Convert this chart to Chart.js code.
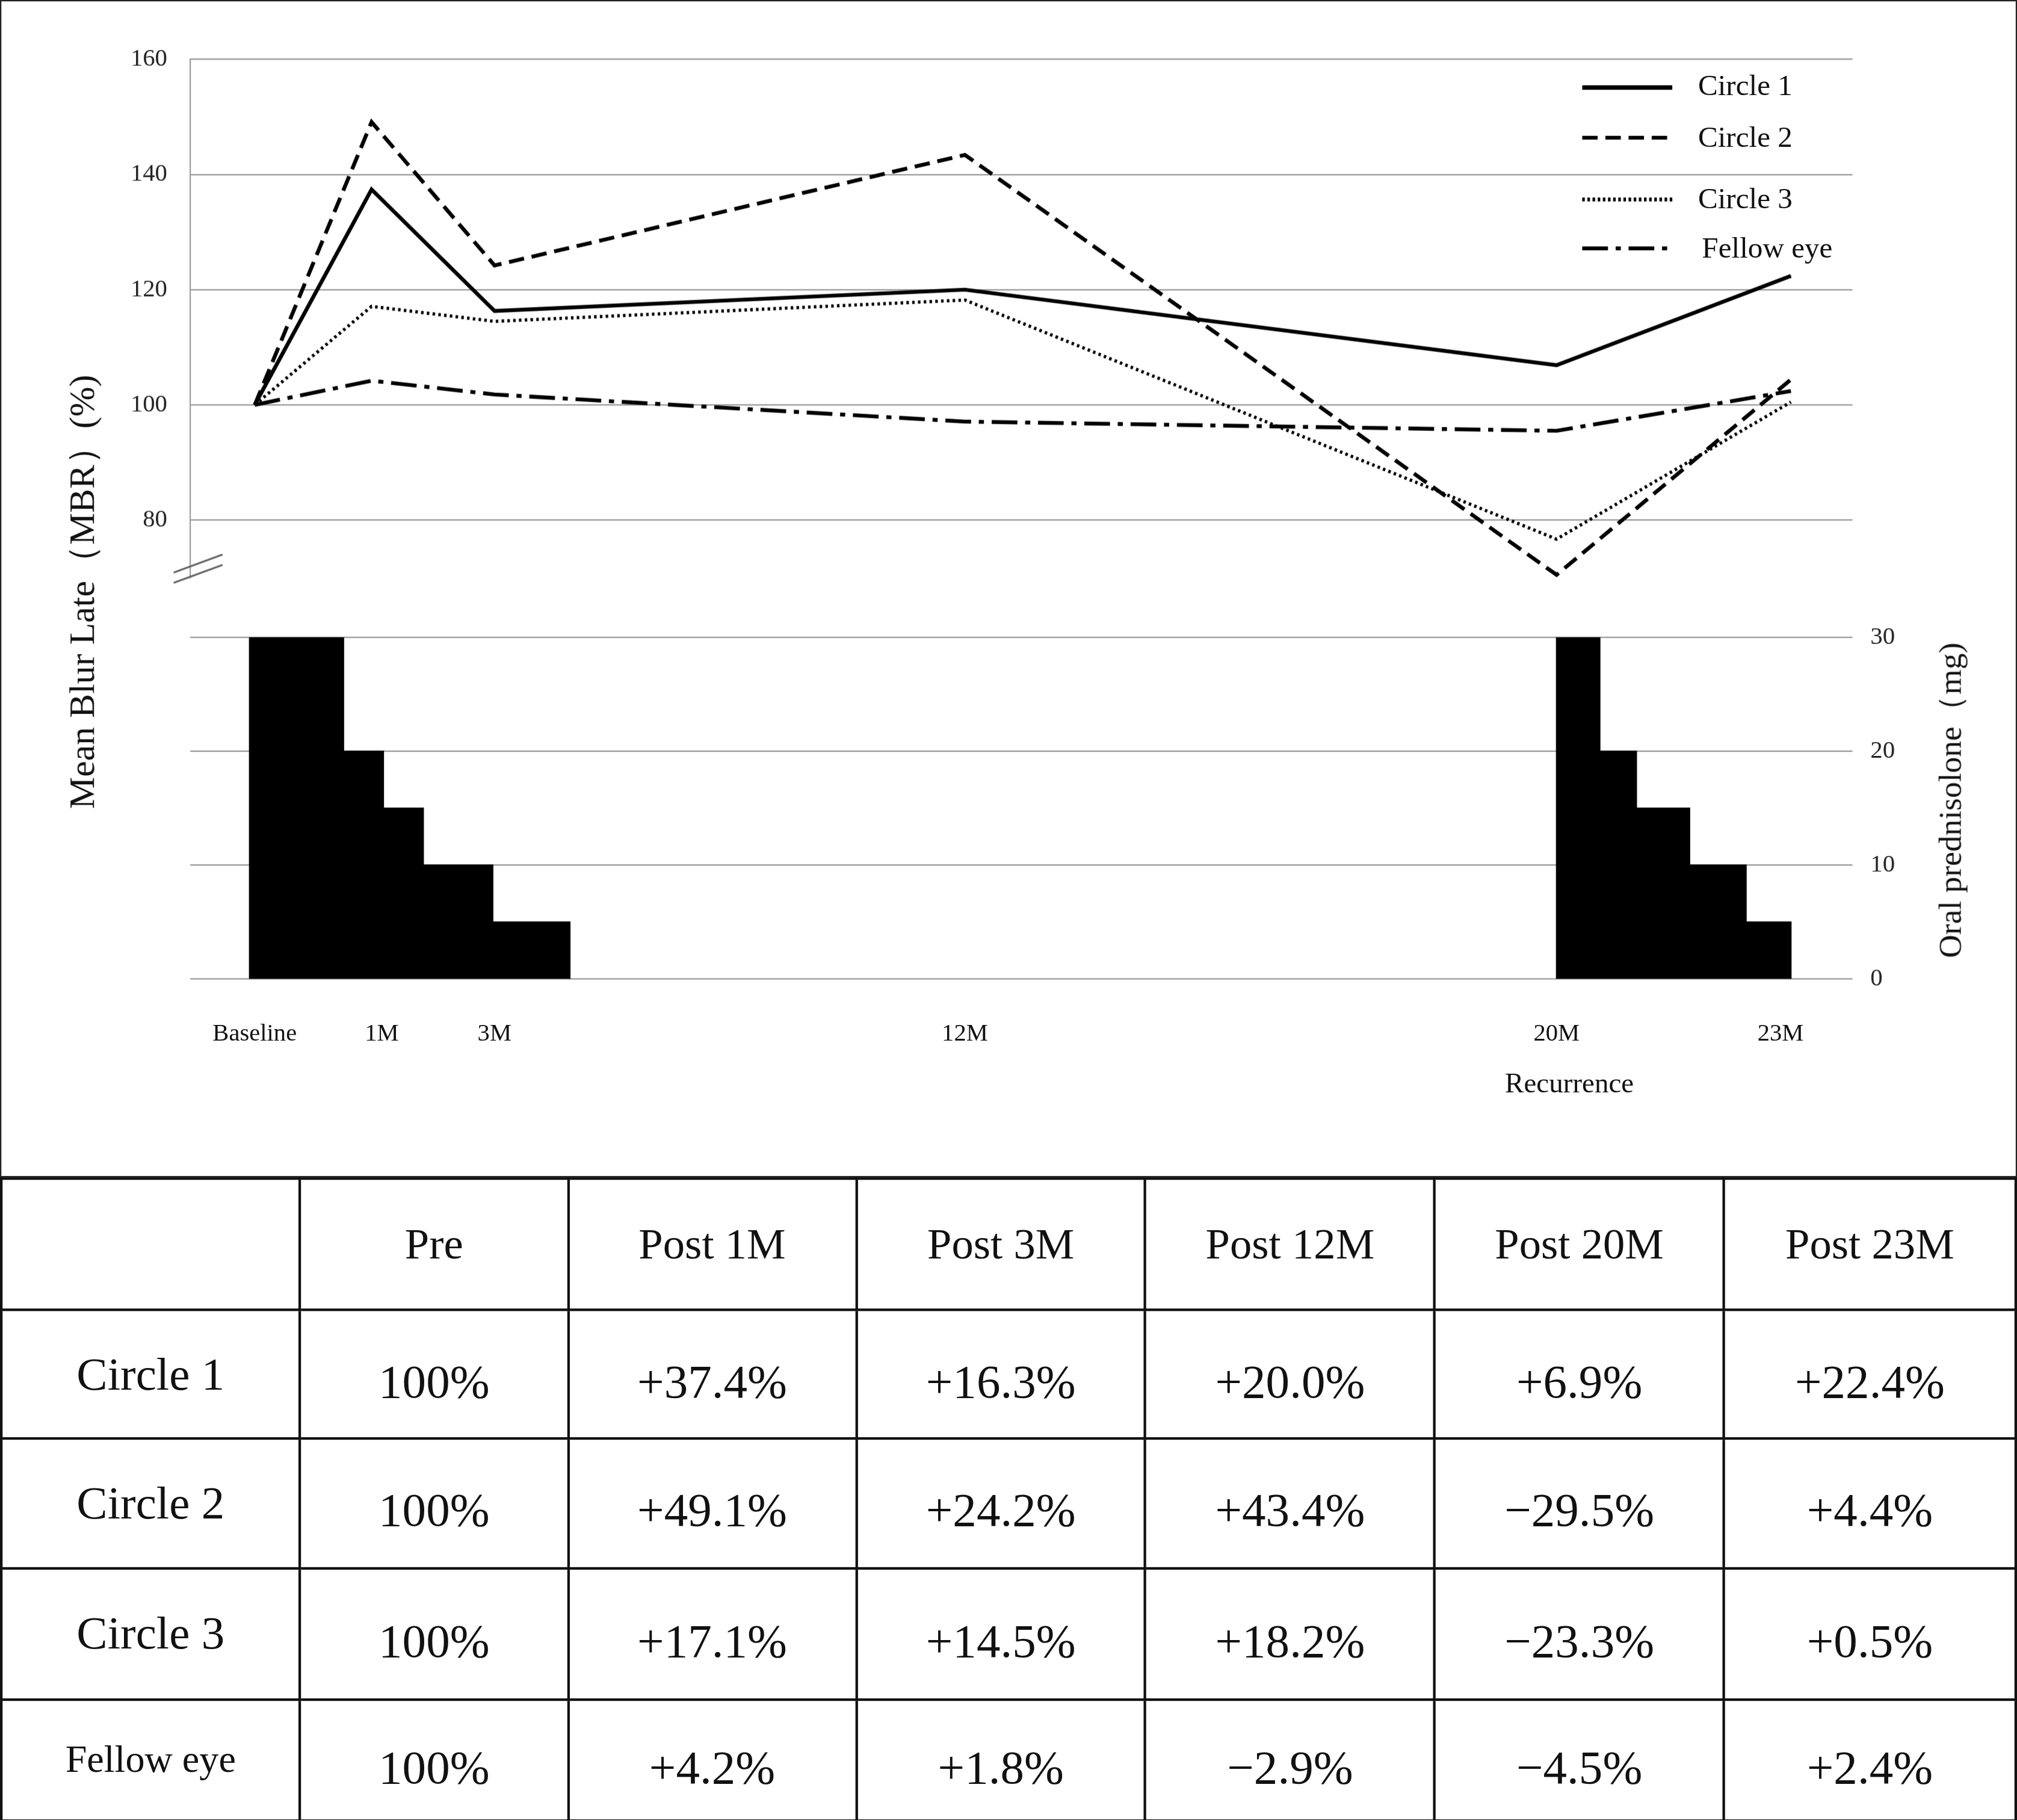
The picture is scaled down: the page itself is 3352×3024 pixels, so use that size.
<!DOCTYPE html>
<html><head><meta charset="utf-8">
<script src="https://cdn.jsdelivr.net/npm/chart.js@4"></script>
<style>
html,body{margin:0;padding:0;background:#fff;}
#wrap{position:absolute;left:0;top:0;width:1568px;height:1415px;transform:scale(2.1378);transform-origin:0 0;font-family:"Liberation Serif",serif;color:#111;}
#frame{position:absolute;left:0;top:0;width:1566px;height:1413px;border:1px solid #222;}
canvas{position:absolute;}
.lab{position:absolute;font-size:19px;white-space:nowrap;transform:translateX(-50%);}
table{position:absolute;left:0;top:915px;width:1568px;border-collapse:collapse;font-family:"Liberation Serif",serif;}
td{border:2px solid #111;text-align:center;font-size:37px;padding:0;}
td.h{font-size:34px;}
</style></head><body>
<div id="wrap">
<div id="frame"></div>
<div style="position:absolute;left:0;top:0;width:1568px;height:915px;border:1px solid #222;box-sizing:border-box"></div>
<canvas id="c1" style="left:0;top:0;width:1568px;height:478px"></canvas>
<canvas id="c2" style="left:0;top:470px;width:1568px;height:316px"></canvas>
<div style="position:absolute;left:64px;top:460px;transform:translate(-50%,-50%) rotate(-90deg);font-size:28px;white-space:nowrap">Mean Blur Late（MBR）(%)</div>
<div style="position:absolute;left:1516px;top:622px;transform:translate(-50%,-50%) rotate(-90deg);font-size:25px;white-space:nowrap">Oral prednisolone（mg)</div>
<svg style="position:absolute;left:125px;top:425px" width="50" height="45"><line x1="10" y1="20" x2="48" y2="6" stroke="#666" stroke-width="1.5"/><line x1="10" y1="28" x2="48" y2="14" stroke="#666" stroke-width="1.5"/></svg>
<svg style="position:absolute;left:1220px;top:50px" width="90" height="160">
<line x1="10" y1="18" x2="80" y2="18" stroke="#000" stroke-width="3.5"/>
<line x1="10" y1="57" x2="80" y2="57" stroke="#000" stroke-width="3" stroke-dasharray="12,6"/>
<line x1="10" y1="105" x2="80" y2="105" stroke="#000" stroke-width="3" stroke-dasharray="2,2"/>
<line x1="10" y1="143" x2="80" y2="143" stroke="#000" stroke-width="3" stroke-dasharray="20,6,4,6"/>
</svg>
<div style="position:absolute;left:1320px;top:55px;font-size:23px;line-height:1">Circle 1</div>
<div style="position:absolute;left:1320px;top:95px;font-size:23px;line-height:1">Circle 2</div>
<div style="position:absolute;left:1320px;top:143px;font-size:23px;line-height:1">Circle 3</div>
<div style="position:absolute;left:1323px;top:181px;font-size:23px;line-height:1">Fellow eye</div>
<div id="xl"></div>
<table id="tb"></table>
</div>
<script>
// timeline positions (% of axis span) of visits
const visits = ["Baseline","1M","3M","12M","20M","23M"];
const visitPos = [3.87,10.9,18.3,46.6,82.2,96.3];
const circle1 = [100,137.4,116.3,120.0,106.9,122.4];
const circle2 = [100,149.1,124.2,143.4,70.5,104.4];
const circle3 = [100,117.1,114.5,118.2,76.7,100.5];
const fellow  = [100,104.2,101.8,97.1,95.5,102.4];
// prednisolone dose steps: start positions and doses (mg)
const dose1Pos = [3.56,9.21,11.61,14.01,18.19,22.83];
const dose1 = [30,20,15,10,5,0];
const dose2Pos = [82.2,84.8,87.0,90.2,93.6,96.3];
const dose2 = [30,20,15,10,5,0];
const leftTicks = [80,100,120,140,160];
const rightTicks = [0,10,20,30];
const headers = ["","Pre","Post 1M","Post 3M","Post 12M","Post 20M","Post 23M"];
const rows = [
 ["Circle 1","100%","+37.4%","+16.3%","+20.0%","+6.9%","+22.4%"],
 ["Circle 2","100%","+49.1%","+24.2%","+43.4%","\u221229.5%","+4.4%"],
 ["Circle 3","100%","+17.1%","+14.5%","+18.2%","\u221223.3%","+0.5%"],
 ["Fellow eye","100%","+4.2%","+1.8%","\u22122.9%","\u22124.5%","+2.4%"]];
const rowH=[102,100,101,102,95], colW=[233,209,224,225,225,225,227];

const DPR=2.1378;
const font={family:"Liberation Serif",size:19};
const pts=a=>a.map((v,i)=>({x:visitPos[i],y:v}));
const ls=(d,dash,w)=>({data:pts(d),borderColor:'#000',borderWidth:w,borderDash:dash,pointRadius:0,tension:0,fill:false});
const fixW=w=>(s=>{s.width=w;});
const c1=new Chart(document.getElementById('c1'),{type:'line',
 data:{datasets:[ls(circle1,[],3),ls(circle2,[12,6],3),ls(circle3,[2,2.5],2.5),ls(fellow,[20,6,4,6],3)]},
 options:{devicePixelRatio:DPR,animation:false,responsive:false,maintainAspectRatio:false,
  layout:{padding:{top:46,right:128,left:0,bottom:0}},
  plugins:{legend:{display:false},tooltip:{enabled:false}},
  scales:{x:{type:'linear',min:0,max:100,display:false},
   y:{min:70,max:160,afterFit:fixW(148),
    afterBuildTicks:s=>{s.ticks=leftTicks.map(v=>({value:v}));},
    ticks:{font,color:'#222',padding:18},
    grid:{color:'#999',drawTicks:false,lineWidth:1},border:{color:'#999'}}}}});
const step=(xs,ys)=>({data:[{x:xs[0],y:0}].concat(xs.map((x,i)=>({x,y:ys[i]}))),stepped:'before',
 borderColor:'#000',backgroundColor:'#000',borderWidth:1,pointRadius:0,fill:'origin'});
const c2=new Chart(document.getElementById('c2'),{type:'line',
 data:{datasets:[step(dose1Pos,dose1),step(dose2Pos,dose2)]},
 options:{devicePixelRatio:DPR,animation:false,responsive:false,maintainAspectRatio:false,
  layout:{padding:{top:22,right:0,left:0,bottom:0}},
  plugins:{legend:{display:false},tooltip:{enabled:false}},
  scales:{x:{type:'linear',min:0,max:100,display:false},
   y:{position:'left',min:0,max:30,afterFit:fixW(148),ticks:{display:false},
    afterBuildTicks:s=>{s.ticks=rightTicks.map(v=>({value:v}));},
    grid:{color:'#999',drawTicks:false},border:{display:false}},
   y2:{position:'right',min:0,max:30,afterFit:fixW(128),
    afterBuildTicks:s=>{s.ticks=rightTicks.map(v=>({value:v}));},
    ticks:{font,color:'#222',padding:14},grid:{display:false,drawTicks:false},border:{display:false}}}}});
const xs=c2.scales.x;
const off=[0,8,0,0,0,-8];
const xl=document.getElementById('xl');
visits.forEach((v,i)=>{const d=document.createElement('div');d.className='lab';
 d.style.left=(xs.getPixelForValue(visitPos[i])+off[i])+'px';d.style.top='792px';d.textContent=v;xl.appendChild(d);});
const r=document.createElement('div');r.className='lab';r.style.left=(xs.getPixelForValue(visitPos[4])+10)+'px';r.style.top='829px';r.style.fontSize='22px';r.textContent='Recurrence';xl.appendChild(r);
const tb=document.getElementById('tb');
[headers].concat(rows).forEach((row,ri)=>{const tr=document.createElement('tr');tr.style.height=rowH[ri]+'px';
 row.forEach((c,ci)=>{const td=document.createElement('td');td.textContent=c;td.style.width=colW[ci]+'px';
  if(ri==0||ci==0)td.className='h';if(ci==0){td.style.fontSize=c=='Fellow eye'?'30px':'36px';td.style.verticalAlign='top';td.style.paddingTop='28px';}
  else if(ri>0){td.style.paddingTop='10px';}
  tr.appendChild(td);});tb.appendChild(tr);});
</script></body></html>
